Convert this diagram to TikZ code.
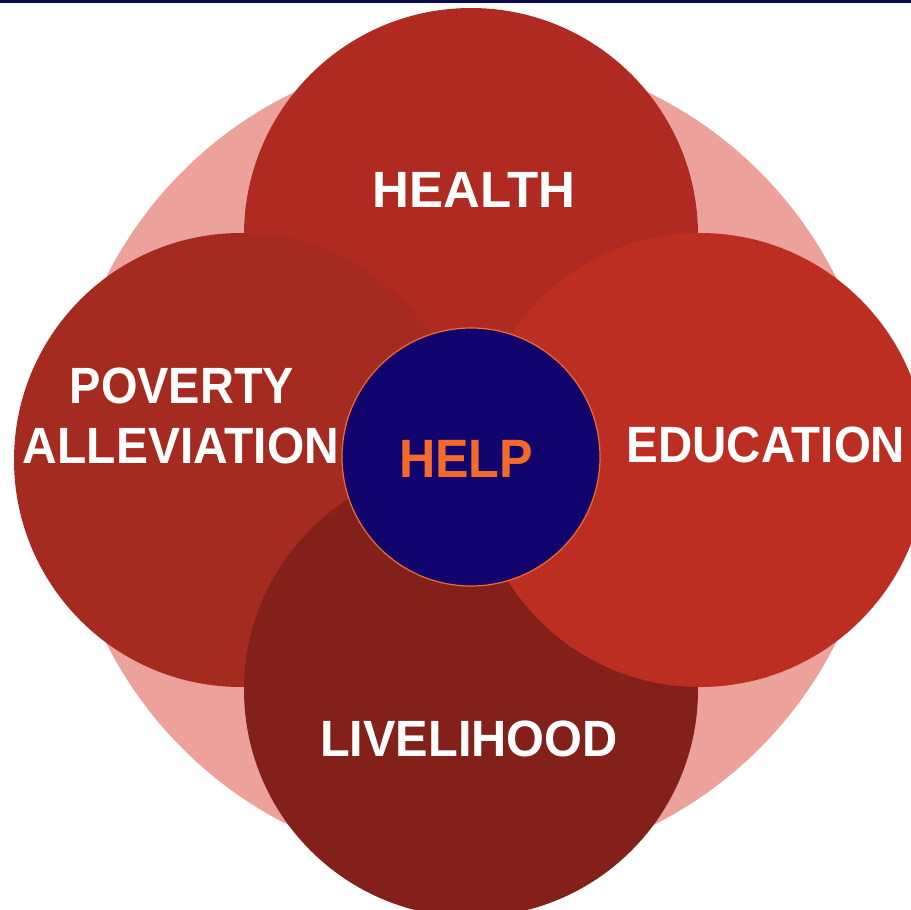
\documentclass[tikz,border=0pt]{standalone}
\usepackage{fontspec}
\setmainfont{Liberation Sans}
\definecolor{topline}{HTML}{0B0B4D}
\definecolor{pinkbg}{HTML}{ECA29A}
\definecolor{healthc}{HTML}{AF2B22}
\definecolor{povc}{HTML}{A52A20}
\definecolor{educ}{HTML}{BD2E22}
\definecolor{livc}{HTML}{84201A}
\definecolor{helpc}{HTML}{12046E}
\definecolor{helptxt}{HTML}{F26B2A}
\begin{document}
\begin{tikzpicture}[x=1pt,y=-1pt,
  petal/.style={circle,inner sep=0pt,minimum size=454pt},
  lbl/.style={text=white,font=\fontsize{51}{60}\selectfont\bfseries,anchor=base,inner sep=0pt}]
\useasboundingbox (0,0) rectangle (911,910);
\clip (0,0) rectangle (911,910);
\fill[white] (0,0) rectangle (911,910);
\node[circle,inner sep=0pt,minimum size=816pt,fill=pinkbg] (bg) at (471,460) {};
\node[petal,fill=healthc] (health) at (471,235) {};
\node[petal,fill=povc] (poverty) at (241,460) {};
\node[petal,fill=livc] (live) at (471,690) {};
\node[petal,fill=educ] (edu) at (700,460) {};
\node[circle,inner sep=0pt,minimum size=258pt,fill=helpc,draw=helptxt,line width=1.2pt] (help) at (471,457) {};
\fill[topline] (0,0) rectangle (911,3);
\node[lbl] (thealth) at (474,207) {\scalebox{1.0}[1]{HEALTH}};
\node[lbl] (tedu) at (766,462) {\scalebox{0.93}[1]{EDUCATION}};
\node[lbl] (tlive) at (469,756) {\scalebox{0.955}[1]{LIVELIHOOD}};
\node[lbl] (tpov) at (182,403) {\scalebox{0.92}[1]{POVERTY}};
\node[lbl] (tall) at (181,463) {\scalebox{0.94}[1]{ALLEVIATION}};
\node[lbl,text=helptxt,font=\fontsize{54}{60}\selectfont\bfseries] (thelp) at (466,477) {\scalebox{0.93}[1]{HELP}};
\end{tikzpicture}
\end{document}
